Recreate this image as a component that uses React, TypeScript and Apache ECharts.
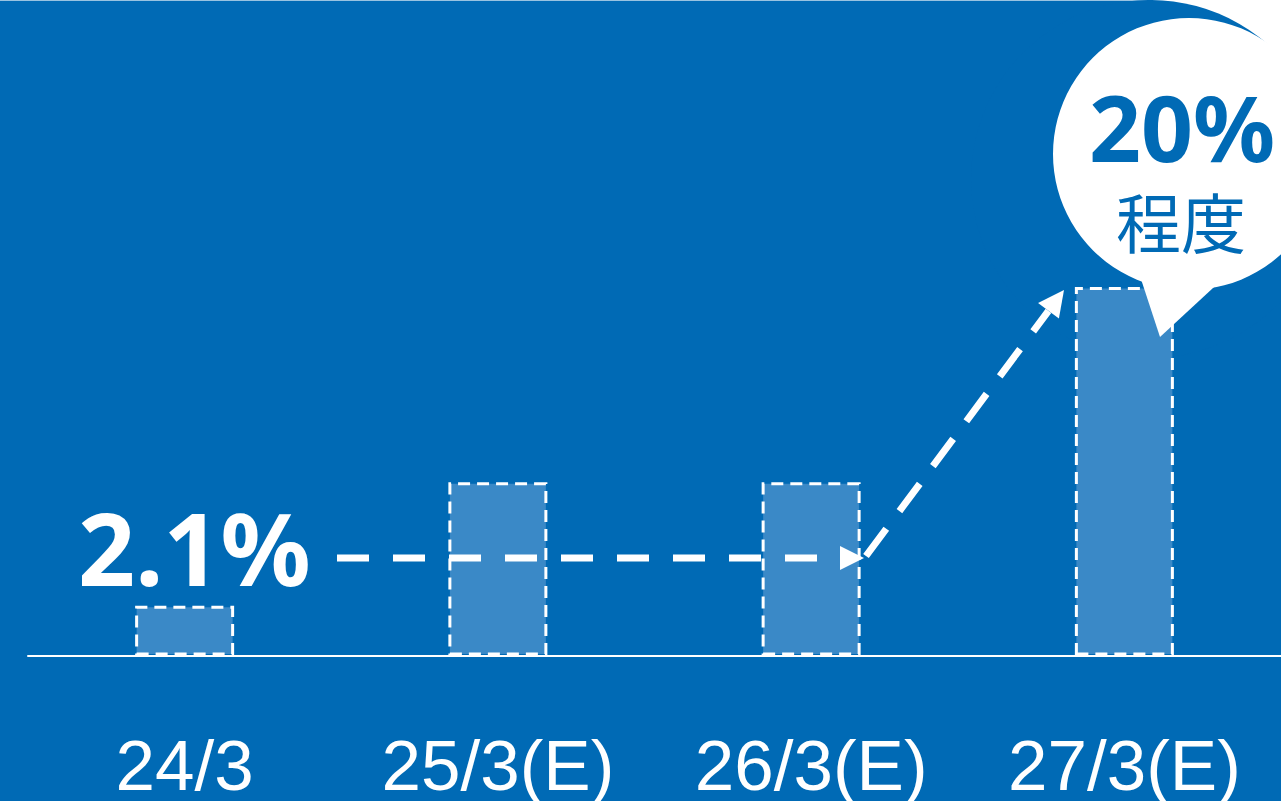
import React, { useEffect, useRef } from "react";
import * as echarts from "echarts";

const categories = ["24/3", "25/3(E)", "26/3(E)", "27/3(E)"];
const values = [2.7, 9.4, 9.4, 20];
const startLabel = "2.1%";
const endLabel = "20%";
const endNote = "程度";

const BG = "#006ab5";
const BAR = "#3a89c7";

export default function App() {
  const ref = useRef<HTMLDivElement>(null);
  useEffect(() => {
    if (!ref.current) return;
    const chart = echarts.init(ref.current, null, { renderer: "svg" });
    const tip = [1064, 290];
    const ux = 0.597, uy = -0.802;
    const hl = 26, hw = 13;
    const bc = [tip[0] - hl * ux, tip[1] - hl * uy];
    const px = -uy * hw, py = ux * hw;
    chart.setOption({
      animation: false,
      backgroundColor: BG,
      grid: { left: 28, width: 1255, top: 287, height: 370, containLabel: false },
      xAxis: {
        type: "category",
        data: categories,
        axisLine: { show: true, lineStyle: { color: "#ffffff", width: 2 } },
        axisTick: { show: false },
        axisLabel: {
          color: "#ffffff",
          fontSize: 71,
          lineHeight: 52,
          fontFamily: "'Liberation Sans', Arial, sans-serif",
          margin: 84,
        },
      },
      yAxis: {
        type: "value",
        min: 0,
        max: 20,
        show: false,
        splitLine: { show: false },
      },
      series: [
        {
          type: "bar",
          data: values,
          barWidth: 99,
          itemStyle: {
            color: BAR,
            borderColor: "#ffffff",
            borderWidth: 3,
            borderType: [12, 7],
          },
          z: 2,
        },
      ],
      graphic: [
        { type: "rect", z: 0, shape: { x: 0, y: 0, width: 1281, height: 1 }, style: { fill: "rgba(255,255,255,0.6)" } },
        { type: "rect", z: 0, shape: { x: 1150, y: 0, width: 131, height: 100 }, style: { fill: "#ffffff" } },
        { type: "circle", z: 1, shape: { cx: 1150, cy: 179, r: 179 }, style: { fill: BG } },
        { type: "circle", z: 52, shape: { cx: 1189, cy: 154, r: 136 }, style: { fill: "#ffffff" } },
        {
          type: "polygon",
          z: 52,
          shape: { points: [[1138, 270], [1160, 337], [1226, 276]] },
          style: { fill: "#ffffff" },
        },
        {
          type: "text",
          z: 60,
          style: {
            x: 1182,
            y: 127,
            text: endLabel,
            fill: BG,
            font: "bold 91px 'Noto Sans', sans-serif",
            lineHeight: 62,
            align: "center",
            verticalAlign: "middle",
          },
        },
        {
          type: "text",
          z: 60,
          style: {
            x: 1181,
            y: 220,
            text: endNote,
            fill: BG,
            font: "normal 65px 'Noto Sans CJK JP', sans-serif",
            lineHeight: 60,
            align: "center",
            verticalAlign: "middle",
          },
        },
        {
          type: "text",
          z: 60,
          style: {
            x: 78,
            y: 547,
            text: startLabel,
            fill: "#ffffff",
            font: "bold 100px 'Noto Sans', sans-serif",
            align: "left",
            verticalAlign: "middle",
          },
        },
        {
          type: "line",
          z: 60,
          shape: { x1: 337, y1: 558, x2: 842, y2: 558 },
          style: { stroke: "#ffffff", lineWidth: 7, lineDash: [32, 24] },
        },
        {
          type: "polygon",
          z: 60,
          shape: { points: [[840, 546], [864, 558], [840, 570]] },
          style: { fill: "#ffffff" },
        },
        {
          type: "line",
          z: 60,
          shape: { x1: 866, y1: 556, x2: bc[0], y2: bc[1] },
          style: { stroke: "#ffffff", lineWidth: 7, lineDash: [34, 22] },
        },
        {
          type: "polygon",
          z: 60,
          shape: {
            points: [
              [tip[0], tip[1]],
              [bc[0] + px, bc[1] + py],
              [bc[0] - px, bc[1] - py],
            ],
          },
          style: { fill: "#ffffff" },
        },
      ],
    });
    return () => chart.dispose();
  }, []);
  return (
    <div
      ref={ref}
      style={{ position: "fixed", left: 0, top: 0, width: 1281, height: 801 }}
    />
  );
}
